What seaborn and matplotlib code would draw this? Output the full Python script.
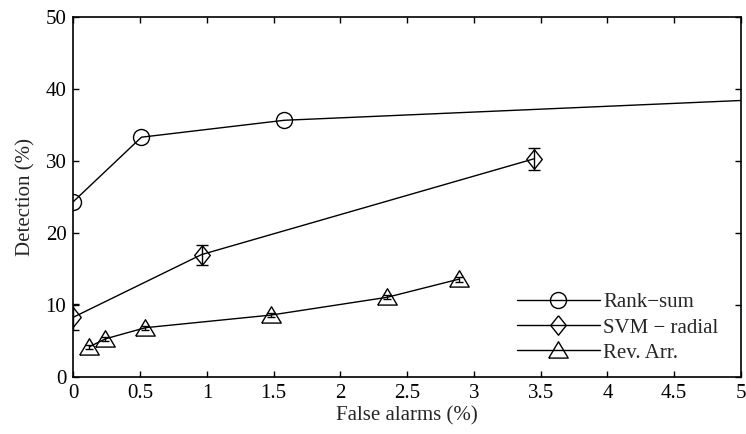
import matplotlib
matplotlib.use("Agg")
import matplotlib.pyplot as plt
import seaborn as sns

# values
rank_x = [0.0, 0.51, 1.58, 6.0]
rank_y = [24.35, 33.3, 35.65, 39.2]

svm_x = [0.0, 0.96, 3.45]
svm_y = [8.3, 17.0, 30.3]
svm_err = [1.8, 1.4, 1.5]

rev_x = [0.12, 0.24, 0.54, 1.48, 2.35, 2.89]
rev_y = [4.2, 5.3, 6.85, 8.6, 11.07, 13.6]
rev_err = [0.3, 0.3, 0.3, 0.25, 0.3, 0.35]

labels = ["Rank\u2212sum", "SVM \u2212 radial", "Rev. Arr."]

sns.set_style("ticks")
plt.rcParams["font.family"] = ["Liberation Serif", "DejaVu Serif"]

FS = 15
LW = 1.0
diamond = [(0, 1), (0.8, 0), (0, -1), (-0.8, 0), (0, 1)]
triangle = [(-1, -0.78), (1, -0.78), (0, 0.9), (-1, -0.78)]

fig = plt.figure(figsize=(7.46, 4.34), dpi=100)
ax = fig.add_axes([0.0983, 0.1313, 0.895, 0.8297])

ax.errorbar(svm_x, svm_y, yerr=svm_err, fmt="none", ecolor="black",
            elinewidth=LW, capsize=4, capthick=LW, zorder=2)
ax.errorbar(rev_x, rev_y, yerr=rev_err, fmt="none", ecolor="black",
            elinewidth=LW, capsize=3, capthick=LW, zorder=2)

style = dict(color="black", linewidth=LW, markerfacecolor="none",
             markeredgecolor="black", markeredgewidth=LW, sort=False, ax=ax,
             zorder=3)
sns.lineplot(x=rank_x, y=rank_y, marker="o", markersize=11.5,
             label=labels[0], **style)
sns.lineplot(x=svm_x, y=svm_y, marker=diamond, markersize=14,
             label=labels[1], **style)
sns.lineplot(x=rev_x, y=rev_y, marker=triangle, markersize=14,
             label=labels[2], **style)

ax.set_xlim(0, 5)
ax.set_ylim(0, 50)
ax.set_xticks([0, 0.5, 1, 1.5, 2, 2.5, 3, 3.5, 4, 4.5, 5])
ax.set_xticklabels(["0", "0.5", "1", "1.5", "2", "2.5", "3", "3.5", "4", "4.5", "5"])
ax.set_yticks([0, 10, 20, 30, 40, 50])
ax.tick_params(direction="in", length=4, width=1, top=True, right=True,
               labelsize=FS, colors="black", pad=5)
for s in ax.spines.values():
    s.set_linewidth(1.2)
    s.set_color("black")
ax.set_xlabel("False alarms (%)", fontsize=FS, labelpad=2)
ax.set_ylabel("Detection (%)", fontsize=FS, labelpad=7)

leg = ax.legend(loc="lower right", bbox_to_anchor=(0.994, -0.0125), frameon=False,
                fontsize=FS, handlelength=4.0, labelspacing=0.27,
                handletextpad=0.15, borderaxespad=0.5)

fig.savefig("out.png", dpi=100)
